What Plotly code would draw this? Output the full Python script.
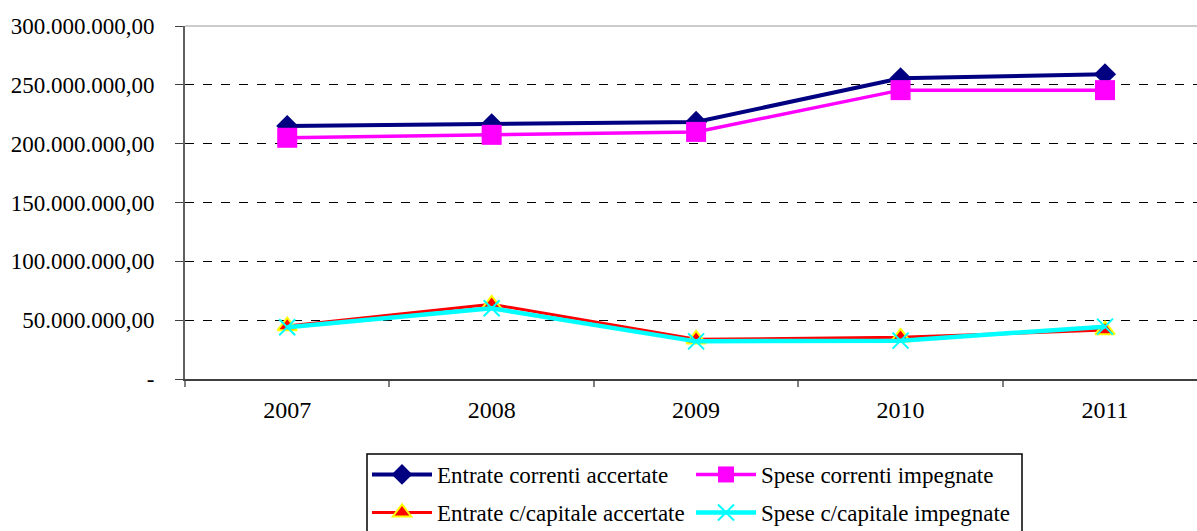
import plotly.graph_objects as go

years = ["2007", "2008", "2009", "2010", "2011"]
entrate_correnti = [215.0e6, 216.5e6, 218.5e6, 255.5e6, 259.0e6]
spese_correnti = [205.0e6, 207.5e6, 210.0e6, 245.5e6, 245.5e6]
entrate_capitale = [45.0e6, 63.5e6, 33.7e6, 35.4e6, 41.6e6]
spese_capitale = [44.0e6, 60.1e6, 32.0e6, 32.6e6, 44.5e6]

ytick_vals = [0, 50e6, 100e6, 150e6, 200e6, 250e6, 300e6]
ytick_text = ["-", "50.000.000,00", "100.000.000,00", "150.000.000,00",
              "200.000.000,00", "250.000.000,00", "300.000.000,00"]

FONT = "Liberation Serif"

fig = go.Figure()
fig.add_trace(go.Scatter(
    x=years, y=entrate_correnti, name="Entrate correnti accertate",
    mode="lines+markers", line=dict(color="#000080", width=4),
    marker=dict(symbol="diamond", size=17, color="#000080"),
    legend="legend"))
fig.add_trace(go.Scatter(
    x=years, y=spese_correnti, name="Spese correnti impegnate",
    mode="lines+markers", line=dict(color="#FF00FF", width=3.5),
    marker=dict(symbol="square", size=20, color="#FF00FF"),
    legend="legend2"))
fig.add_trace(go.Scatter(
    x=years, y=entrate_capitale, name="Entrate c/capitale accertate",
    mode="lines+markers", line=dict(color="#FF0000", width=3),
    marker=dict(symbol="triangle-up", size=17, color="#FF0000",
                line=dict(color="#FFFF00", width=2)),
    legend="legend3"))
fig.add_trace(go.Scatter(
    x=years, y=spese_capitale, name="Spese c/capitale impegnate",
    mode="lines+markers", line=dict(color="#00FFFF", width=4.5),
    marker=dict(symbol="x-thin", size=16, color="#00FFFF",
                line=dict(color="#00FFFF", width=2)),
    legend="legend4"))

PL, PT, PB, W, H = 185, 26, 152, 1197, 531
PW, PH = W - PL, H - PT - PB


def px_x(p):
    return (p - PL) / PW


def px_y(p):
    return (PT + PH - p) / PH


leg_common = dict(
    orientation="v", xanchor="left", yanchor="top",
    borderwidth=0, bgcolor="rgba(0,0,0,0)",
    font=dict(family=FONT, size=23, color="black"),
    itemwidth=60,
)

fig.update_layout(
    width=W, height=H,
    margin=dict(l=PL, r=0, t=PT, b=PB, autoexpand=False),
    paper_bgcolor="white", plot_bgcolor="white",
    font=dict(family=FONT, size=23, color="black"),
    showlegend=True,
    legend=dict(x=px_x(367), y=px_y(453), **leg_common),
    legend2=dict(x=px_x(691), y=px_y(453), **leg_common),
    legend3=dict(x=px_x(367), y=px_y(491), **leg_common),
    legend4=dict(x=px_x(691), y=px_y(491), **leg_common),
    xaxis=dict(
        type="category", range=[-0.5, 4.45],
        showline=True, linecolor="#404040", linewidth=2,
        ticks="outside", tickson="boundaries", ticklen=6, tickcolor="#808080",
        tickwidth=2,
        showgrid=False, zeroline=False, ticklabelstandoff=8,
        tickfont=dict(family=FONT, size=24, color="black"),
    ),
    yaxis=dict(
        range=[0, 300e6], tickvals=ytick_vals, ticktext=ytick_text,
        showline=True, linecolor="#606060", linewidth=2,
        ticks="outside", ticklen=8, tickcolor="#404040",
        showgrid=True, gridcolor="black", griddash="dash", gridwidth=1,
        zeroline=False, ticklabelstandoff=16,
        tickfont=dict(family=FONT, size=23, color="black"),
    ),
    shapes=[
        dict(type="line", xref="paper", yref="paper", x0=0, x1=1, y0=1, y1=1,
             line=dict(color="#CCCCCC", width=2), layer="above"),
        dict(type="rect", xref="paper", yref="paper",
             x0=px_x(367), x1=px_x(1022), y0=px_y(454), y1=px_y(545),
             line=dict(color="black", width=1.5), fillcolor="rgba(0,0,0,0)",
             layer="above"),
    ],
)

fig.write_html("out.html", config={"displayModeBar": False},
               post_script="document.body.style.margin='0';")
